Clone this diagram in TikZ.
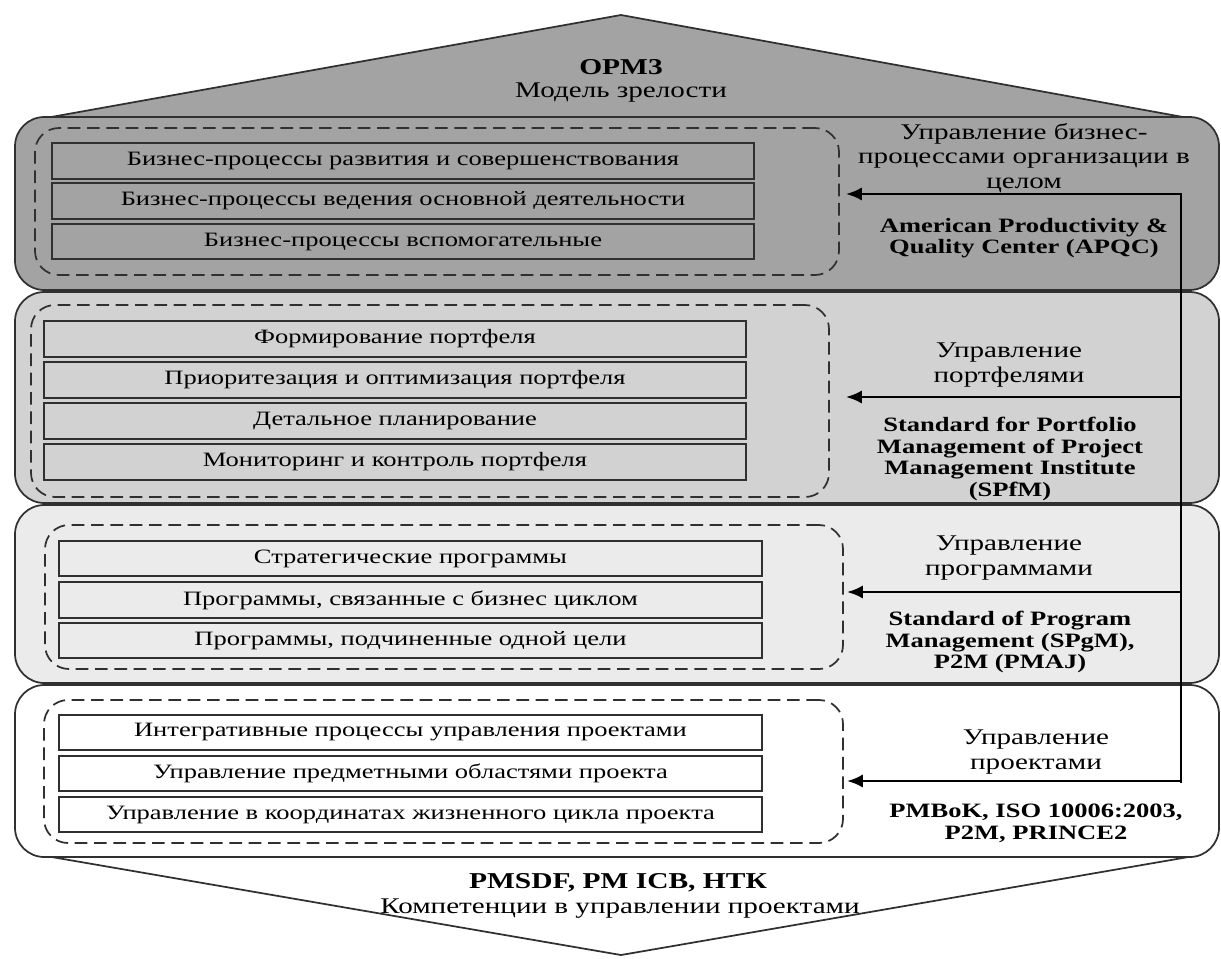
\documentclass[tikz,border=0pt]{standalone}
\usepackage{fontspec}
\setmainfont{Liberation Serif}[FakeStretch=1.3]
\usetikzlibrary{arrows.meta,calc}
\definecolor{gA}{HTML}{A3A3A3}
\definecolor{gB}{HTML}{D2D2D2}
\definecolor{gC}{HTML}{EBEBEB}
\definecolor{ln}{HTML}{303030}
\tikzset{
  band/.style={draw=ln, line width=1.3pt, rounded corners=22pt},
  dbox/.style={draw=ln, line width=1.3pt, dash pattern=on 9.5pt off 5pt, rounded corners=18pt},
  ibox/.style={draw=ln, line width=1.5pt},
  itext/.style={font=\fontsize{15.3pt}{18pt}\selectfont, anchor=center},
  rtext/.style={font=\fontsize{16.8pt}{18.5pt}\selectfont, align=center, anchor=center},
  btext/.style={font=\fontsize{15.3pt}{16.3pt}\selectfont\bfseries, align=center, anchor=center},
  arr/.style={line width=2.2pt, -{Latex[length=12pt,width=10pt]}},
  vline/.style={line width=2.2pt},
}
\newcommand{\ibox}[6]{% name, x1,y1,x2,y2,text
  \node[ibox, inner sep=0pt, minimum width={(#4-#2)*0.75pt}, minimum height={(#5-#3)*0.75pt}] (#1) at ({(#2+#4)/2},{(#3+#5)/2}) {};
  \node[itext] at (#1.center) {#6};
}
\begin{document}
\begin{tikzpicture}[x=0.75pt,y=-0.75pt]
\useasboundingbox (0,0) rectangle (1221,958);
% roof and bottom chevron
\draw[draw=ln, line width=1.3pt, fill=gA, line join=round] (40,119) -- (621,15) -- (1194,119) -- cycle;
\draw[draw=ln, line width=1.3pt, fill=white, line join=round] (40,855) -- (621,955) -- (1200,855) -- cycle;
% bands
\draw[band, fill=gA] (15,117) rectangle (1219,290);
\draw[band, fill=gB] (15,292) rectangle (1219,503);
\draw[band, fill=gC] (15,505) rectangle (1219,683);
\draw[band, fill=white] (15,685) rectangle (1219,857);
% top and bottom labels
\node[btext, font=\fontsize{17pt}{19pt}\selectfont\bfseries] (opm) at (621,67) {OPM3};
\node[rtext] (opmsub) at (621,93) {Модель зрелости};
\node[btext, font=\fontsize{17pt}{19pt}\selectfont\bfseries] (pmsdf) at (618,883) {PMSDF, PM ICB, НТК};
\node[rtext] (pmsdfsub) at (620,909) {Компетенции в управлении проектами};
% dashed groups
\node[dbox, inner sep=0pt, minimum width={804*0.75pt}, minimum height={147*0.75pt}] (d1) at (437,201.5) {};
\node[dbox, inner sep=0pt, minimum width={798*0.75pt}, minimum height={192*0.75pt}] (d2) at (430,401) {};
\node[dbox, inner sep=0pt, minimum width={798*0.75pt}, minimum height={144*0.75pt}] (d3) at (444,597) {};
\node[dbox, inner sep=0pt, minimum width={799*0.75pt}, minimum height={143*0.75pt}] (d4) at (443.5,771.5) {};
% band 1 boxes
\ibox{a1}{52}{143}{754}{179}{Бизнес-процессы развития и совершенствования}
\ibox{a2}{52}{183}{754}{219}{Бизнес-процессы ведения основной деятельности}
\ibox{a3}{52}{224}{754}{259}{Бизнес-процессы вспомогательные}
% band 2 boxes
\ibox{b1}{44}{321}{746}{357}{Формирование портфеля}
\ibox{b2}{44}{362}{746}{398}{Приоритезация и оптимизация портфеля}
\ibox{b3}{44}{403}{746}{439}{Детальное планирование}
\ibox{b4}{44}{444}{746}{480}{Мониторинг и контроль портфеля}
% band 3 boxes
\ibox{c1}{59}{541}{762}{576}{Стратегические программы}
\ibox{c2}{59}{582}{762}{618}{Программы, связанные с бизнес циклом}
\ibox{c3}{59}{623}{762}{658}{Программы, подчиненные одной цели}
% band 4 boxes
\ibox{e1}{59}{715}{762}{750}{Интегративные процессы управления проектами}
\ibox{e2}{59}{756}{762}{791}{Управление предметными областями проекта}
\ibox{e3}{59}{797}{762}{832}{Управление в координатах жизненного цикла проекта}
% right labels
\node[rtext] (r1) at (1024,158) {Управление бизнес-\\процессами организации в\\целом};
\node[btext] (s1) at (1024,238) {American Productivity \&\\Quality Center (APQC)};
\node[rtext] (r2) at (1009,365) {Управление\\портфелями};
\node[btext] (s2) at (1010,459) {Standard for Portfolio\\Management of Project\\Management Institute\\(SPfM)};
\node[rtext] (r3) at (1009,558) {Управление\\программами};
\node[btext] (s3) at (1010,642) {Standard of Program\\Management (SPgM),\\P2M (PMAJ)};
\node[rtext] (r4) at (1036,752) {Управление\\проектами};
\node[btext] (s4) at (1036,823) {PMBoK, ISO 10006:2003,\\P2M, PRINCE2};
% connectors
\coordinate (v1) at (1181,194);
\coordinate (v2) at (1181,397);
\coordinate (v3) at (1181,592);
\coordinate (v4) at (1181,781);
\draw[vline, line cap=butt] ($(v4)+(0,1.5)$) -- ($(v1)+(0,-1.5)$);
\draw[arr] (v1) -- ($(d1.east |- v1)+(6,0)$);
\draw[arr] (v2) -- ($(d2.east |- v2)+(16,0)$);
\draw[arr] (v3) -- ($(d3.east |- v3)+(3,0)$);
\draw[arr] (v4) -- ($(d4.east |- v4)+(3,0)$);
\end{tikzpicture}
\end{document}
